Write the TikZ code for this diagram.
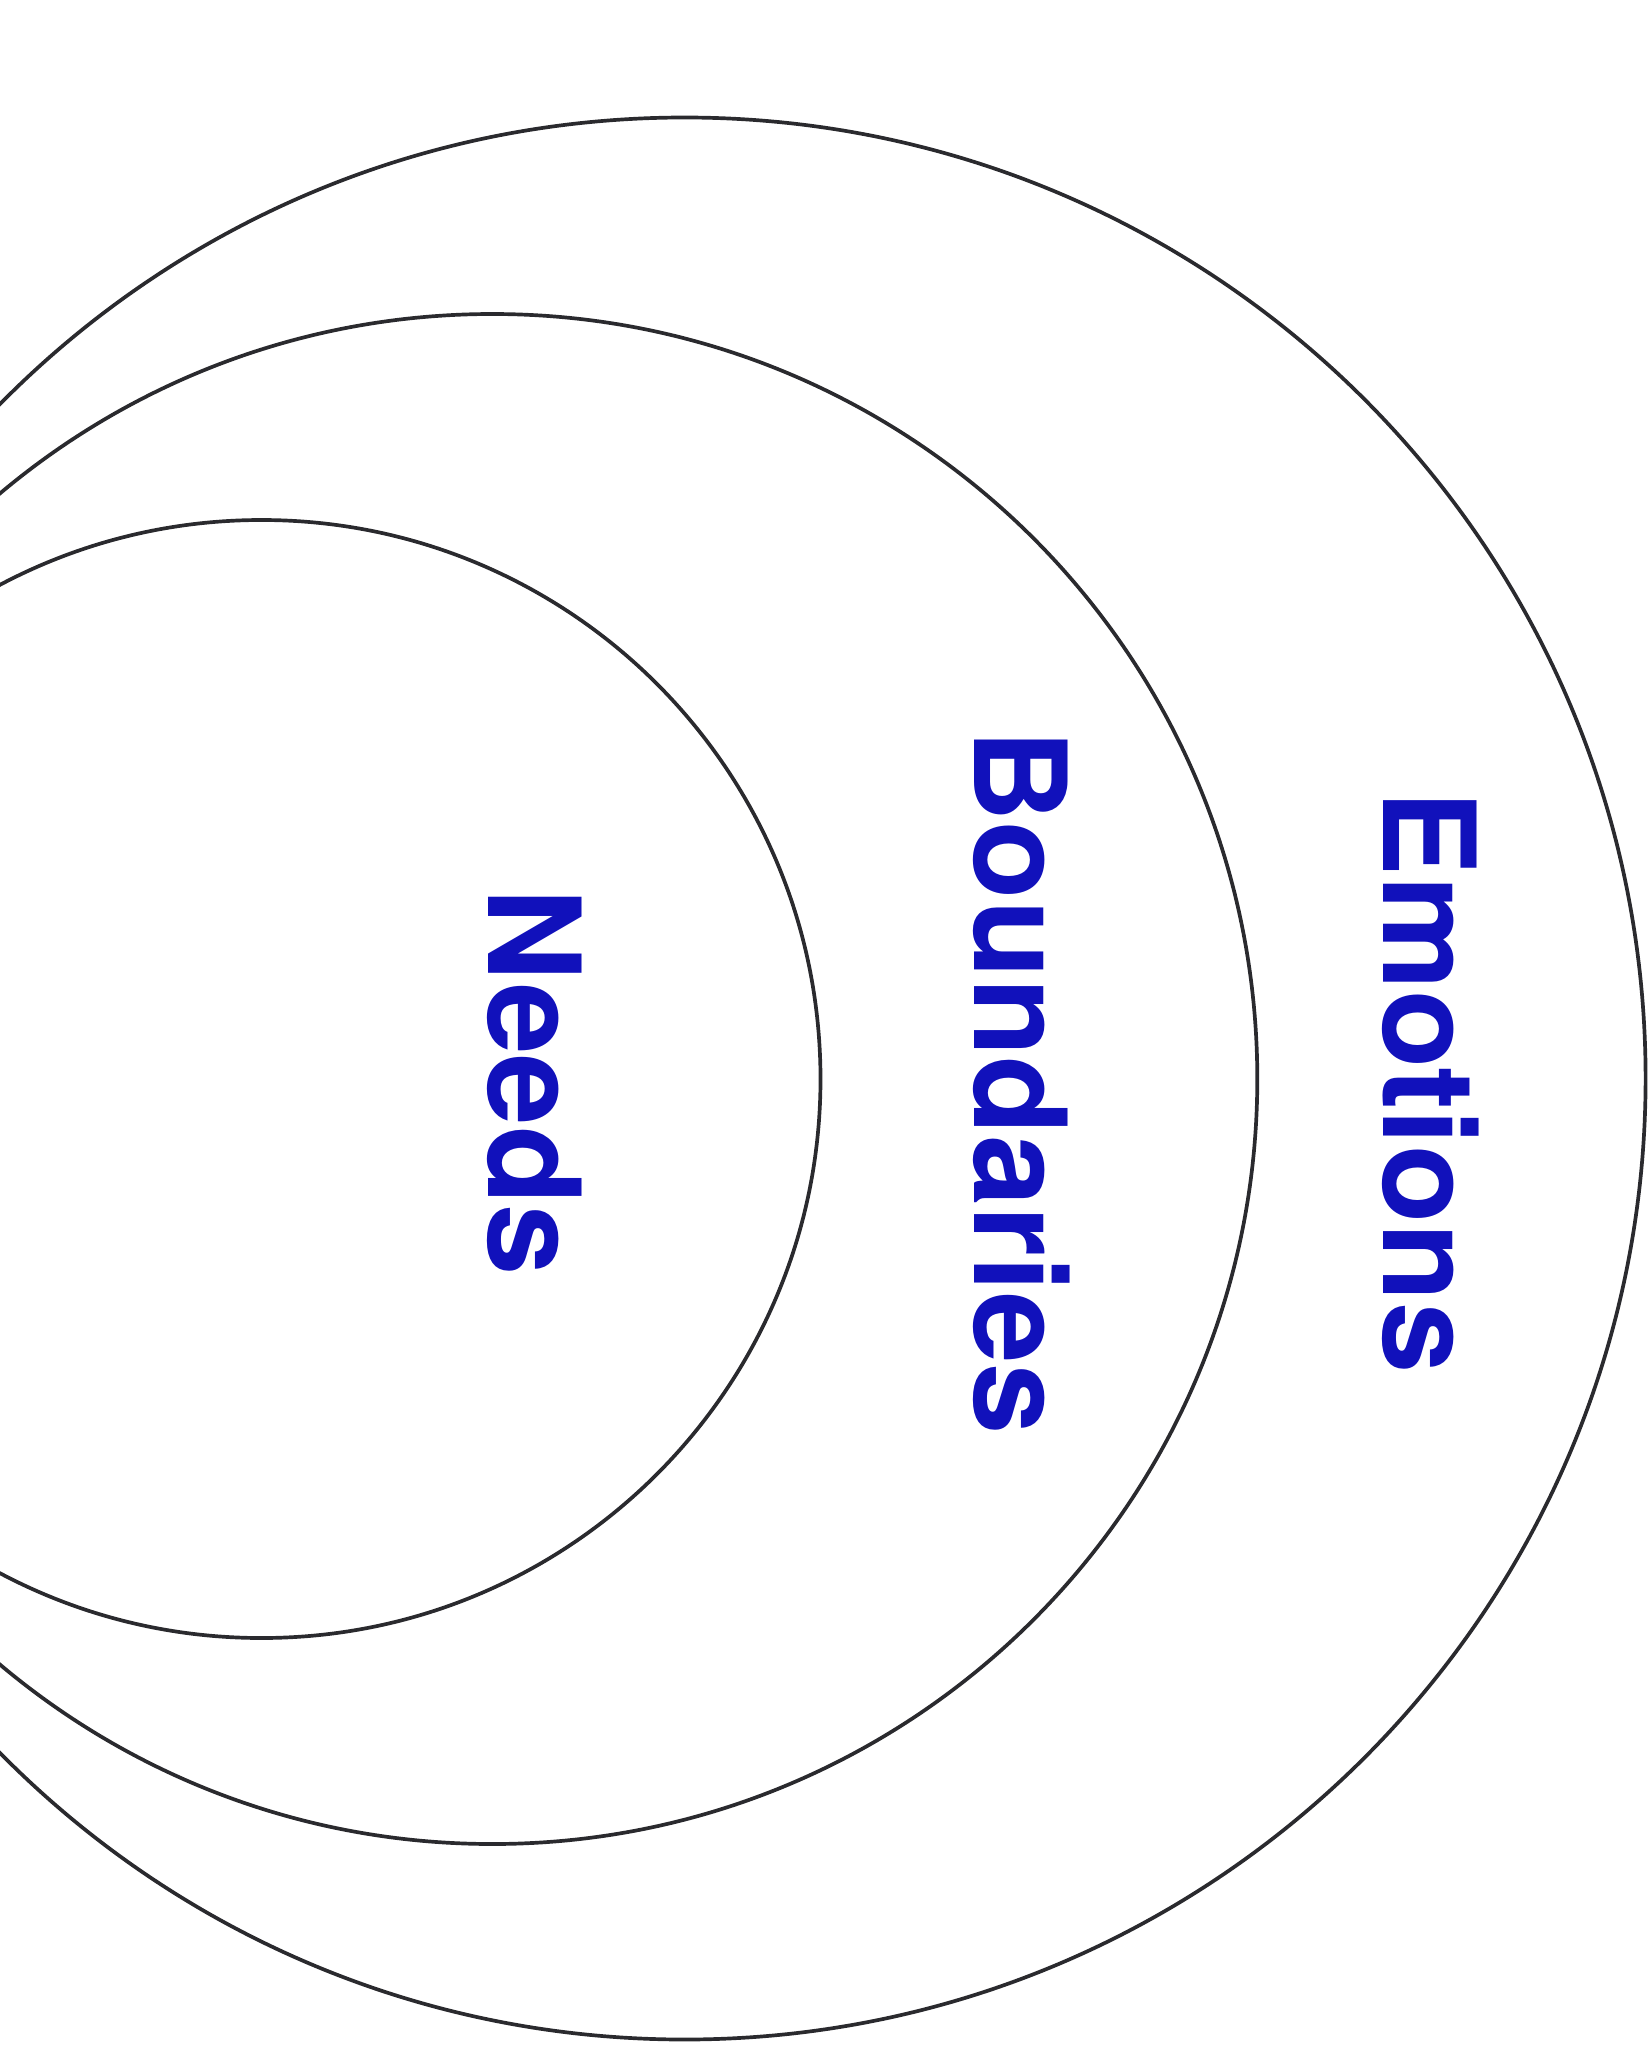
\documentclass[tikz,border=0pt]{standalone}
\usepackage{fontspec}
\setmainfont{TeX Gyre Heros}
\definecolor{ringcol}{HTML}{2A2A2E}
\definecolor{labcol}{HTML}{1111BB}
\begin{document}
\begin{tikzpicture}[x=0.02cm,y=-0.02cm,
  ring/.style={draw=ringcol,line width=2.1pt},
  lab/.style={text=labcol,font=\fontsize{73}{80}\selectfont\bfseries,rotate=-90,inner sep=0pt}]
\useasboundingbox (0,0) rectangle (1651,2045);
\begin{scope}
\clip (0,0) rectangle (1651,2045);
\draw[ring] (684.6,1078.5) circle (961);
\draw[ring] (492.3,1079) circle (765);
\draw[ring] (261.5,1079) circle (559);
\end{scope}
\node[lab] (emotions) at (1431,1082) {Emotions};
\node[lab] (boundaries) at (1022,1082) {Boundaries};
\node[lab] (needs) at (535,1082) {Needs};
\end{tikzpicture}
\end{document}
